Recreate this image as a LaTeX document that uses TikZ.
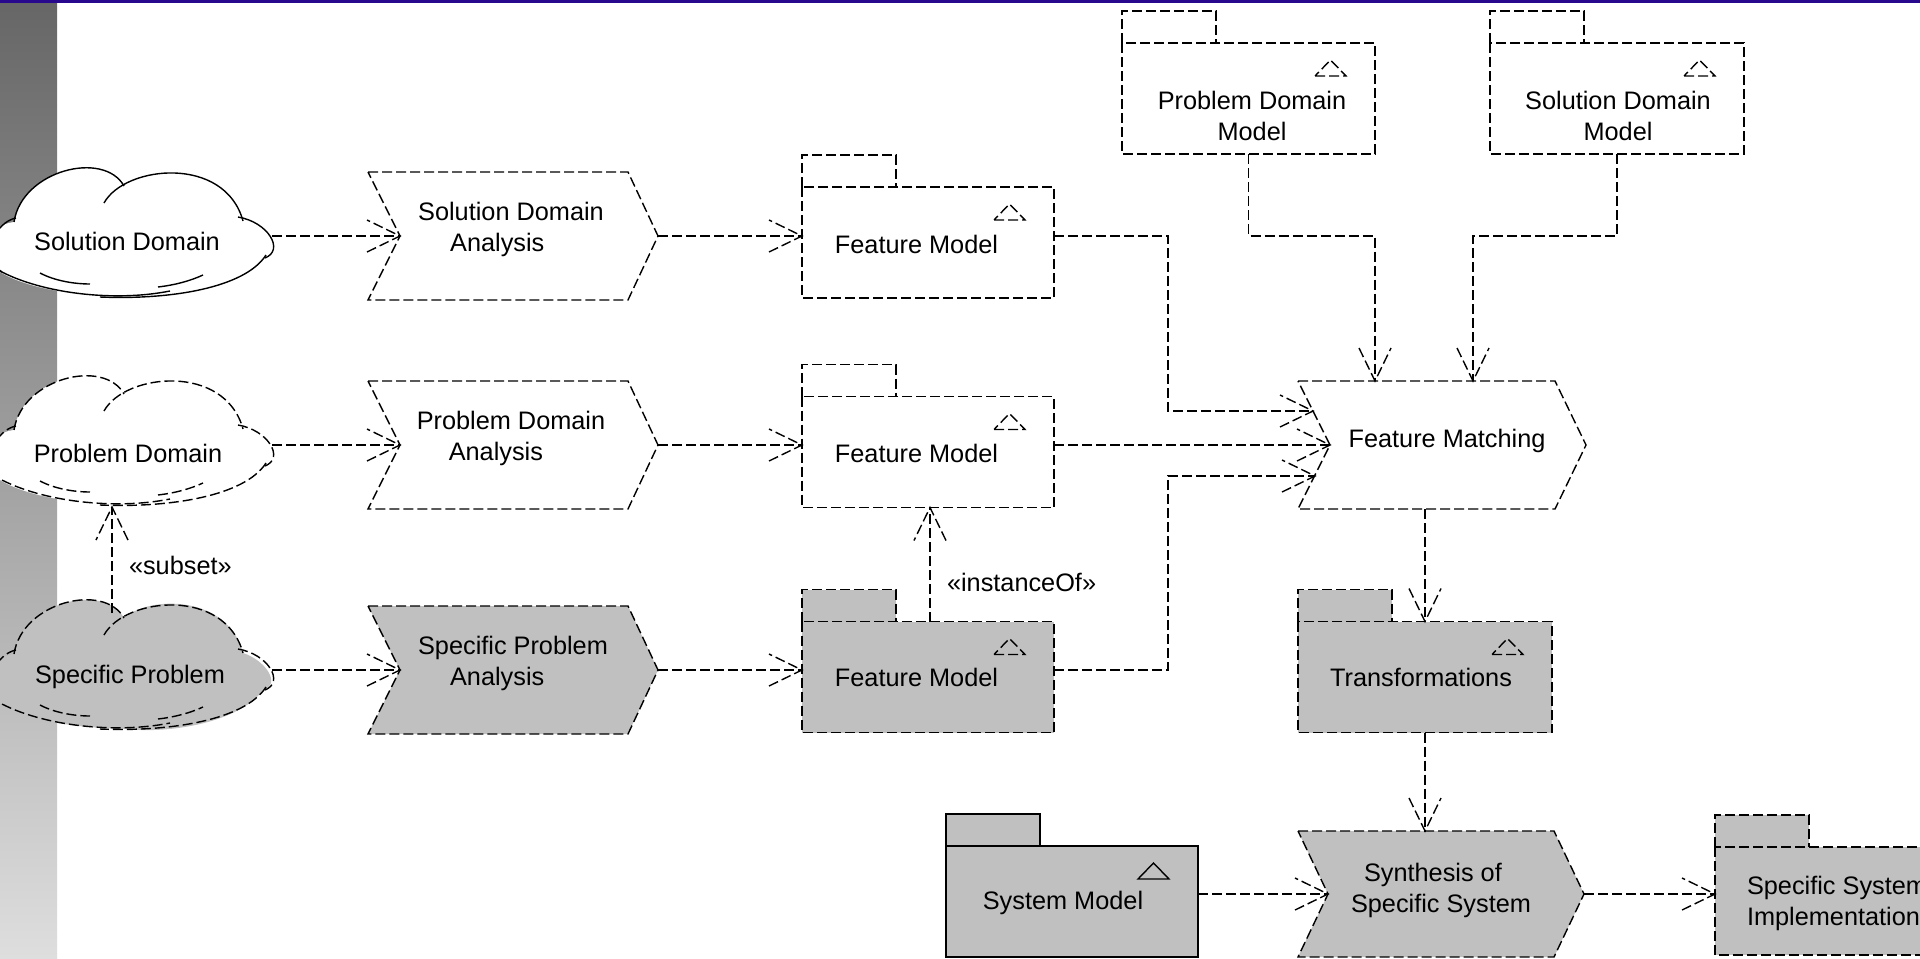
\documentclass[tikz,border=0pt]{standalone}
\usepackage{fontspec}
\setmainfont{Liberation Sans}
\usetikzlibrary{calc,decorations.markings}
\pgfdeclarelayer{back}
\pgfdeclarelayer{shapes}
\pgfsetlayers{back,shapes,main}
\definecolor{pkggray}{RGB}{192,192,192}
\definecolor{striptop}{RGB}{102,102,102}
\definecolor{stripbot}{RGB}{222,222,222}
\definecolor{topline}{RGB}{40,8,140}
\newcommand\dfont{\fontsize{12.65}{15.5}\selectfont}
\newcommand\chevshape[5]{%
 \path[fill=#2,#3] (#1.north west) -- ($(#1.north east)+(-#5,0)$) -- (#1.east) -- ($(#1.south east)+(-#5,0)$) -- (#1.south west) -- ($(#1.west)+(#4,0)$) -- cycle;}
\newcommand\pkgshape[3]{%
 \fill[#2] (#1.north west) rectangle ($(#1.north west)+(94,-32)$);
 \path[fill=#2,#3] (#1.north west) rectangle (#1.south east);
 \draw[#3] (#1.north west) -- ++(0,-32) -- ++(94,0) -- ++(0,32);}
\newcommand\pkgtri[2]{\draw[#2] ($(#1.north east)+(-60,33)$) -- ++(31,0) -- ++(-15.5,-16) -- cycle;}
\newcommand\cloudshape[3]{%
 \begin{scope}[shift={(0,#1)}]
 \fill[#2] (14,222) .. controls (22,170) and (104,150) .. (124,186) .. controls (150,163) and (228,163) .. (243,221) .. controls (265,228) and (282,252) .. (263,258) .. controls (240,290) and (170,302) .. (127,297) .. controls (80,296) and (30,290) .. (0,272) .. controls (-20,260) and (-15,225) .. (14,222) -- cycle;
 \draw[#3] (14,222) .. controls (22,170) and (104,150) .. (124,186);
 \draw[#3] (104,203) .. controls (125,165) and (225,155) .. (243,221);
 \draw[#3] (238,217) .. controls (268,222) and (285,250) .. (265,258);
 \draw[#3] (266,255) .. controls (245,288) and (170,300) .. (100,297);
 \draw[#3] (-10,265) .. controls (30,292) and (110,303) .. (170,291);
 \draw[#3] (40,273) .. controls (55,281) and (75,284) .. (90,284);
 \draw[#3] (158,287) .. controls (175,285) and (190,281) .. (203,275);
 \draw[#3] (16,218) .. controls (-5,222) and (-22,258) .. (2,272);
 \end{scope}}
\tikzset{
 box/.style={rectangle, inner sep=0pt, outer sep=0pt},
 lbl/.style={inner sep=0pt, outer sep=0pt, font=\dfont, text=black},
 dsh/.style={dash pattern=on 5pt off 2pt},
 outl/.style={draw=black, line width=0.7pt, dsh},
 soutl/.style={draw=black, line width=0.7pt, solid},
 conn/.style={outl, postaction={decorate, decoration={markings, mark=at position 1 with {\draw[outl] (-33,16) -- (0,0) -- (-33,-16);}}}},
}
\begin{document}
\begin{tikzpicture}[x=0.5pt,y=-0.5pt]
\useasboundingbox (0,0) rectangle (1920,958);
\clip (0,0) rectangle (1920,958);
\begin{pgfonlayer}{back}
 \begin{scope}
 \clip (0,0) rectangle (1920,958);
 \fill[white] (0,0) rectangle (1920,958);
 \shade[top color=striptop, bottom color=stripbot] (0,0) rectangle (57,958);
 \fill[topline] (0,0) rectangle (1920,2.5);
 \end{scope}
\end{pgfonlayer}

% clouds
\node[box, minimum width=141pt, minimum height=63pt, label={[lbl,xshift=-2pt,yshift=-2.5pt]center:Solution Domain}] (c1) at (131,236) {};
\node[box, minimum width=141pt, minimum height=63pt, label={[lbl,xshift=-1.5pt,yshift=-4pt]center:Problem Domain}] (c2) at (131,445) {};
\node[box, minimum width=141pt, minimum height=63pt, label={[lbl,xshift=-0.5pt,yshift=-3.5pt]center:Specific Problem}] (c3) at (131,670) {};

% chevrons
\node[box, minimum width=145pt, minimum height=64pt, label={[lbl,align=left,xshift=-1pt,yshift=3.25pt]center:{Solution Domain\\\hspace*{16pt}Analysis}}] (sda) at (513,236) {};
\node[box, minimum width=145pt, minimum height=64pt, label={[lbl,align=left,xshift=-1pt,yshift=3.25pt]center:{Problem Domain\\\hspace*{16pt}Analysis}}] (pda) at (513,445) {};
\node[box, minimum width=145pt, minimum height=64pt, label={[lbl,align=left,xshift=0pt,yshift=3.25pt]center:{Specific Problem\\\hspace*{16pt}Analysis}}] (spa) at (513,670) {};
\node[box, minimum width=144pt, minimum height=64pt, label={[lbl,xshift=2.5pt,yshift=2.15pt]center:Feature Matching}] (fmatch) at (1442,445) {};
\node[box, minimum width=143pt, minimum height=63pt, label={[lbl,align=left,yshift=2pt]center:{\hspace*{6.5pt}Synthesis of\\Specific System}}] (syn) at (1441,894) {};

% packages
\node[box, minimum width=126pt, minimum height=55.5pt, label={[lbl,xshift=-5.75pt,yshift=-0.75pt]center:Feature Model}] (fm1) at (928,242.5) {};
\node[box, minimum width=126pt, minimum height=55.5pt, label={[lbl,xshift=-5.75pt,yshift=-0.5pt]center:Feature Model}] (fm2) at (928,452) {};
\node[box, minimum width=126pt, minimum height=55.5pt, label={[lbl,xshift=-5.75pt]center:Feature Model}] (fm3) at (928,677) {};
\node[box, minimum width=126.5pt, minimum height=55.5pt, label={[lbl,align=center,xshift=1.75pt,yshift=-8.5pt]center:{Problem Domain\\Model}}] (pdm) at (1248.5,98.5) {};
\node[box, minimum width=127pt, minimum height=55.5pt, label={[lbl,align=center,xshift=0.5pt,yshift=-8.5pt]center:{Solution Domain\\Model}}] (sdm) at (1617,98.5) {};
\node[box, minimum width=127pt, minimum height=55.5pt, label={[lbl,xshift=-2pt]center:Transformations}] (tr) at (1425,677) {};
\node[box, minimum width=126pt, minimum height=55.5pt, label={[lbl,xshift=-4.5pt,yshift=-0.75pt]center:System Model}] (sm) at (1072,901.5) {};
\node[box, minimum width=126pt, minimum height=54pt, label={[lbl,align=left,xshift=-2pt,yshift=-1pt]center:{Specific System\\Implementation}}] (ssi) at (1841,901) {};

\begin{pgfonlayer}{shapes}
 \begin{scope}
 \clip (0,0) rectangle (1920,958);
 \cloudshape{0}{white}{soutl}
 \cloudshape{208}{white}{outl}
 \cloudshape{432}{pkggray}{outl}
 \chevshape{sda}{white}{outl}{32}{30}
 \chevshape{pda}{white}{outl}{32}{30}
 \chevshape{spa}{pkggray}{outl}{32}{30}
 \chevshape{fmatch}{white}{outl}{32}{31}
 \chevshape{syn}{pkggray}{outl}{30}{30}
 \pkgshape{fm1}{white}{outl}\pkgtri{fm1}{outl}
 \pkgshape{fm2}{white}{outl}\pkgtri{fm2}{outl}
 \pkgshape{fm3}{pkggray}{outl}\pkgtri{fm3}{outl}
 \pkgshape{pdm}{white}{outl}\pkgtri{pdm}{outl}
 \pkgshape{sdm}{white}{outl}\pkgtri{sdm}{outl}
 \pkgshape{tr}{pkggray}{outl}\pkgtri{tr}{outl}
 \pkgshape{sm}{pkggray}{soutl}\pkgtri{sm}{soutl}
 \pkgshape{ssi}{pkggray}{outl}
 \end{scope}
\end{pgfonlayer}

% connector helper coordinates
\coordinate (jx) at (1168,0);
\coordinate (fmA) at ($(fmatch.west)+(15,-34)$);
\coordinate (fmB) at ($(fmatch.west)+(17,31)$);
\coordinate (fmT1) at ($(fmatch.north)+(-67,0)$);
\coordinate (fmT2) at ($(fmatch.north)+(31,0)$);

\draw[conn] (c1.east) -- ($(sda.west)+(32,0)$);
\draw[conn] (sda.east) -- (fm1.west |- sda.east);
\draw[conn] (c2.east) -- ($(pda.west)+(32,0)$);
\draw[conn] (pda.east) -- (fm2.west |- pda.east);
\draw[conn] (c3.east) -- ($(spa.west)+(32,0)$);
\draw[conn] (spa.east) -- (fm3.west |- spa.east);
\draw[conn] ($(c3.north)+(-19,6)$) -- node[lbl, anchor=west, xshift=8.5pt, pos=0.45] (lsub) {«subset»} ($(c2.south)+(-19,-1)$);
\draw[conn] ($(fm3.north)+(2,0)$) -- node[lbl, anchor=west, xshift=8.5pt, pos=0.34] (linst) {«instanceOf»} ($(fm2.south)+(2,0)$);
\draw[conn] (fm1.east |- sda.east) -- (jx |- sda.east) -- (jx |- fmA) -- (fmA);
\draw[conn] (fm2.east |- fmatch.west) -- ($(fmatch.west)+(32,0)$);
\draw[conn] (fm3.east |- spa.east) -- (jx |- spa.east) -- (jx |- fmB) -- (fmB);
\draw[conn] (pdm.south) -- (pdm.south |- sda.east) -- (fmT1 |- sda.east) -- (fmT1);
\draw[conn] (sdm.south) -- (sdm.south |- sda.east) -- (fmT2 |- sda.east) -- (fmT2);
\draw[conn] (tr.north |- fmatch.south) -- (tr.north);
\draw[conn] (tr.south) -- (tr.south |- syn.north);
\draw[conn] (sm.east |- syn.west) -- ($(syn.west)+(30,0)$);
\draw[conn] (syn.east) -- (ssi.west |- syn.east);
\end{tikzpicture}
\end{document}
